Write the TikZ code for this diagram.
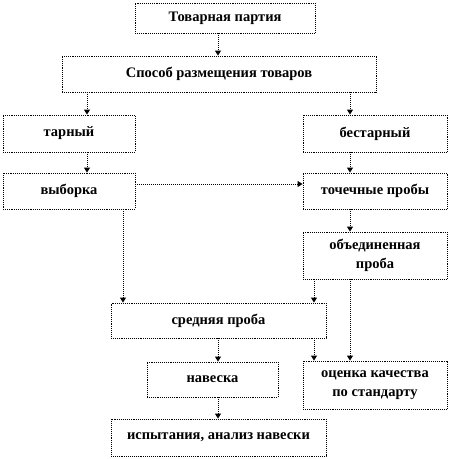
\documentclass[tikz,border=0pt]{standalone}
\usepackage{fontspec}
\setmainfont{Liberation Serif}
\usetikzlibrary{arrows.meta}
\begin{document}
\begin{tikzpicture}[x=1pt,y=-1pt,
  box/.style={draw=black, densely dotted, line width=0.9pt, fill=white, inner sep=0pt, align=center,
    font=\fontsize{14.5}{19}\selectfont\bfseries, text=black},
  arr/.style={draw=black, densely dotted, line width=1pt, -{Triangle[length=5pt,width=6pt,fill=black]}}]
\useasboundingbox (0,0) rectangle (450,459);
\node[box, minimum width=180, minimum height=30] (tp) at (225,18) {Товарная партия};
\node[box, minimum width=314, minimum height=36] (sp) at (219,74) {Способ размещения товаров};
\node[box, minimum width=132, minimum height=37] (tar) at (69,133.5) {тарный};
\node[box, minimum width=144, minimum height=37] (best) at (375,133.5) {бестарный};
\node[box, minimum width=132, minimum height=36] (vyb) at (69,191) {выборка};
\node[box, minimum width=144, minimum height=36] (toch) at (375,191) {точечные пробы};
\node[box, minimum width=144, minimum height=47] (obj) at (375,255.5) {объединенная\\проба};
\node[box, minimum width=215, minimum height=35] (sred) at (218.5,320.5) {средняя проба};
\node[box, minimum width=131, minimum height=35] (nav) at (212.5,379.5) {навеска};
\node[box, minimum width=144, minimum height=48] (ots) at (375,385) {оценка качества\\по стандарту};
\node[box, minimum width=215, minimum height=37] (isp) at (218.5,437.5) {испытания, анализ навески};
\coordinate (xa) at (218,0);
\coordinate (xb) at (87,0);
\coordinate (xc) at (350,0);
\coordinate (xd) at (123,0);
\coordinate (xe) at (314,0);
\coordinate (yh) at (0,184);
\draw[arr] (tp.south -| xa) -- (sp.north -| xa);
\draw[arr] (sp.south -| xb) -- (tar.north -| xb);
\draw[arr] (sp.south -| xc) -- (best.north -| xc);
\draw[arr] (tar.south -| xb) -- (vyb.north -| xb);
\draw[arr] (best.south -| xc) -- (toch.north -| xc);
\draw[arr] (vyb.east |- yh) -- (toch.west |- yh);
\draw[arr] (toch.south -| xc) -- (obj.north -| xc);
\draw[arr] (vyb.south -| xd) -- (sred.north -| xd);
\draw[arr] (obj.south -| xe) -- (sred.north -| xe);
\draw[arr] (obj.south -| xc) -- (ots.north -| xc);
\draw[arr] (sred.south -| xa) -- (nav.north -| xa);
\draw[arr] (sred.south -| xe) -- (ots.north -| xe);
\draw[arr] (nav.south -| xa) -- (isp.north -| xa);
\end{tikzpicture}
\end{document}
